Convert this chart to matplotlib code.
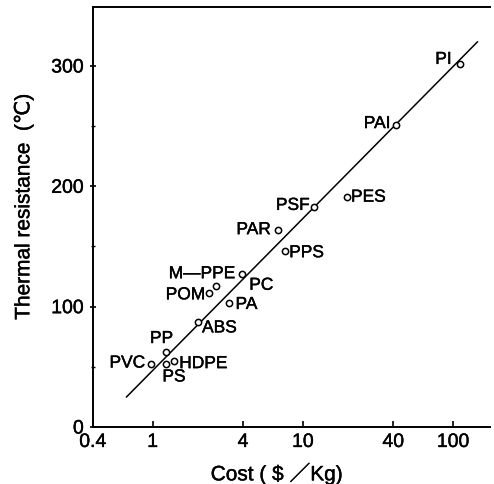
import matplotlib
matplotlib.use("Agg")
import matplotlib.pyplot as plt
import matplotlib.patheffects as pe
from matplotlib.ticker import FixedLocator, FixedFormatter, NullLocator

plt.rcParams['font.family'] = ['Liberation Sans', 'DejaVu Sans', 'Noto Sans CJK JP']

# Data
materials = ["PI", "PAI", "PSF", "PES", "PAR", "PPS", "PC", "M—PPE", "POM",
             "PA", "ABS", "PP", "HDPE", "PS", "PVC"]
cost = [111, 41.7, 11.8, 19.6, 6.8, 7.6, 3.95, 2.62, 2.38,
        3.2, 2.0, 1.22, 1.38, 1.22, 0.97]
thermal = [302, 251, 183, 191, 164, 146, 127, 117, 111,
           103, 87, 62, 55, 52, 52]
fit_cost = [0.67, 145]
fit_thermal = [25, 320]
xticks = [0.4, 1, 4, 10, 40, 100]
xticklabels = ["0.4", "1", "4", "10", "40", "100"]
yticks = [0, 100, 200, 300]
yminor = [50, 150, 250]

# label offsets (points) and alignment
label_style = {
    "PI":    (-6, 3, 'right'),
    "PAI":   (-4, 1, 'right'),
    "PSF":   (-3, 1, 'right'),
    "PES":   (3, 0, 'left'),
    "PAR":   (-5, 0, 'right'),
    "PPS":   (3, -1, 'left'),
    "PC":    (5, -8, 'left'),
    "M—PPE": (14, 9, 'right'),
    "POM":   (-3, -1, 'right'),
    "PA":    (5, -1, 'left'),
    "ABS":   (3, -4, 'left'),
    "PP":    (-3, 10, 'center'),
    "HDPE":  (4, -2, 'left'),
    "PS":    (6, -9, 'center'),
    "PVC":   (-4, 1, 'right'),
}

bold = [pe.withStroke(linewidth=0.3, foreground='black')]

fig = plt.figure(figsize=(4.94, 4.85), dpi=100)
ax = fig.add_axes([0.188, 0.1175, 0.804, 0.866])

ax.plot(fit_cost, fit_thermal, color='black', lw=1.1)
ax.plot(cost, thermal, 'o', mfc='white', mec='black', ms=4.5, mew=1.1, zorder=3)

for m, x, y in zip(materials, cost, thermal):
    dx, dy, ha = label_style[m]
    ax.annotate(m, (x, y), xytext=(dx, dy), textcoords='offset points',
                ha=ha, va='center', fontsize=12.5, path_effects=bold)

ax.set_xscale('log')
ax.set_xlim(0.4, 176)
ax.set_ylim(0, 349)
ax.xaxis.set_major_locator(FixedLocator(xticks))
ax.xaxis.set_major_formatter(FixedFormatter(xticklabels))
ax.xaxis.set_minor_locator(NullLocator())
ax.set_yticks(yticks)
ax.yaxis.set_minor_locator(FixedLocator(yminor))

ax.tick_params(axis='x', which='major', direction='in', length=4, width=1.2,
               labelsize=14, pad=5)
ax.tick_params(axis='y', which='major', direction='inout', length=5, width=1.2,
               labelsize=14, pad=4)
ax.tick_params(axis='y', which='minor', direction='inout', length=3, width=1.0)
for t in ax.get_xticklabels() + ax.get_yticklabels():
    t.set_path_effects(bold)

ax.spines['right'].set_visible(False)
for s in ['left', 'top', 'bottom']:
    ax.spines[s].set_linewidth(1.4)

ax.set_xlabel("Cost ( $ ／Kg)", fontsize=15, path_effects=bold)
ax.set_ylabel("Thermal resistance  (℃)", fontsize=15, path_effects=bold)
ax.xaxis.set_label_coords(0.463, -0.085)
ax.yaxis.set_label_coords(-0.15, 0.525)

fig.savefig("out.png", dpi=100)
